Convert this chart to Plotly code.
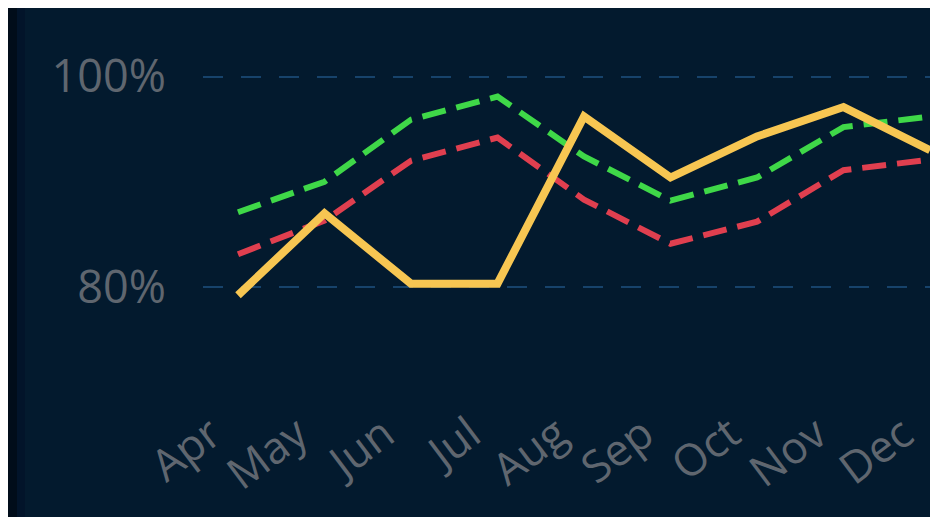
import plotly.graph_objects as go

months = ["Apr", "May", "Jun", "Jul", "Aug", "Sep", "Oct", "Nov", "Dec"]
actual = [79.2, 87.0, 80.3, 80.3, 96.2, 90.4, 94.3, 97.1, 93.0]
target_green = [87.1, 90.0, 95.9, 98.1, 92.4, 88.2, 90.4, 95.2, 96.2]
target_red = [83.1, 86.3, 92.0, 94.2, 88.3, 84.1, 86.2, 91.1, 92.1]
y_tickvals = [80, 100]
y_ticktext = ["80%", "100%"]

W, H = 930, 517
ML, MR, MT, MB = 203, 0, 24, 125
BG = "#031a2e"
LABEL = "#5f666f"
FONT = "Open Sans, Noto Sans, sans-serif"


def px_x(p):
    return (p - ML) / (W - ML - MR)


def px_y(p):
    return (H - MB - p) / (H - MT - MB)


fig = go.Figure()
fig.add_trace(go.Scatter(x=months, y=target_green, mode="lines",
                         line=dict(color="#3fd848", width=6, dash="24px,11px"),
                         showlegend=False, hoverinfo="skip"))
fig.add_trace(go.Scatter(x=months, y=target_red, mode="lines",
                         line=dict(color="#e03f4f", width=6, dash="24px,11px"),
                         showlegend=False, hoverinfo="skip"))
fig.add_trace(go.Scatter(x=months, y=actual, mode="lines",
                         line=dict(color="#f7c652", width=8),
                         showlegend=False, hoverinfo="skip"))

shapes = [
    dict(type="rect", xref="paper", yref="paper", x0=px_x(0), x1=px_x(W), y0=px_y(8), y1=px_y(0),
         fillcolor="white", line_width=0, layer="above"),
    dict(type="rect", xref="paper", yref="paper", x0=px_x(0), x1=px_x(8), y0=px_y(H), y1=px_y(0),
         fillcolor="white", line_width=0, layer="above"),
    dict(type="rect", xref="paper", yref="paper", x0=px_x(8), x1=px_x(17), y0=px_y(H), y1=px_y(8),
         fillcolor="#010d1a", line_width=0, layer="below"),
    dict(type="rect", xref="paper", yref="paper", x0=px_x(17), x1=px_x(25), y0=px_y(H), y1=px_y(8),
         fillcolor="#02142a", line_width=0, layer="below"),
]

fig.update_layout(
    width=W, height=H,
    margin=dict(l=ML, r=MR, t=MT, b=MB, pad=0),
    paper_bgcolor=BG, plot_bgcolor="rgba(0,0,0,0)",
    font=dict(family=FONT, color=LABEL, size=40),
    shapes=shapes,
    xaxis=dict(
        type="category", categoryorder="array", categoryarray=months,
        range=[-0.4046, 8.0], showgrid=False, zeroline=False, showline=False,
        tickangle=-37, tickfont=dict(size=44, color=LABEL),
        ticklabelshift=-27, ticklabelstandoff=7,
    ),
    yaxis=dict(
        range=[70, 105], tickmode="array", tickvals=y_tickvals, ticktext=y_ticktext,
        showgrid=True, gridcolor="#17436b", gridwidth=2, griddash="20px,18px",
        zeroline=False, showline=False,
        tickfont=dict(size=45, color=LABEL), ticklabelstandoff=36,
    ),
)

fig.write_html("out.html")
